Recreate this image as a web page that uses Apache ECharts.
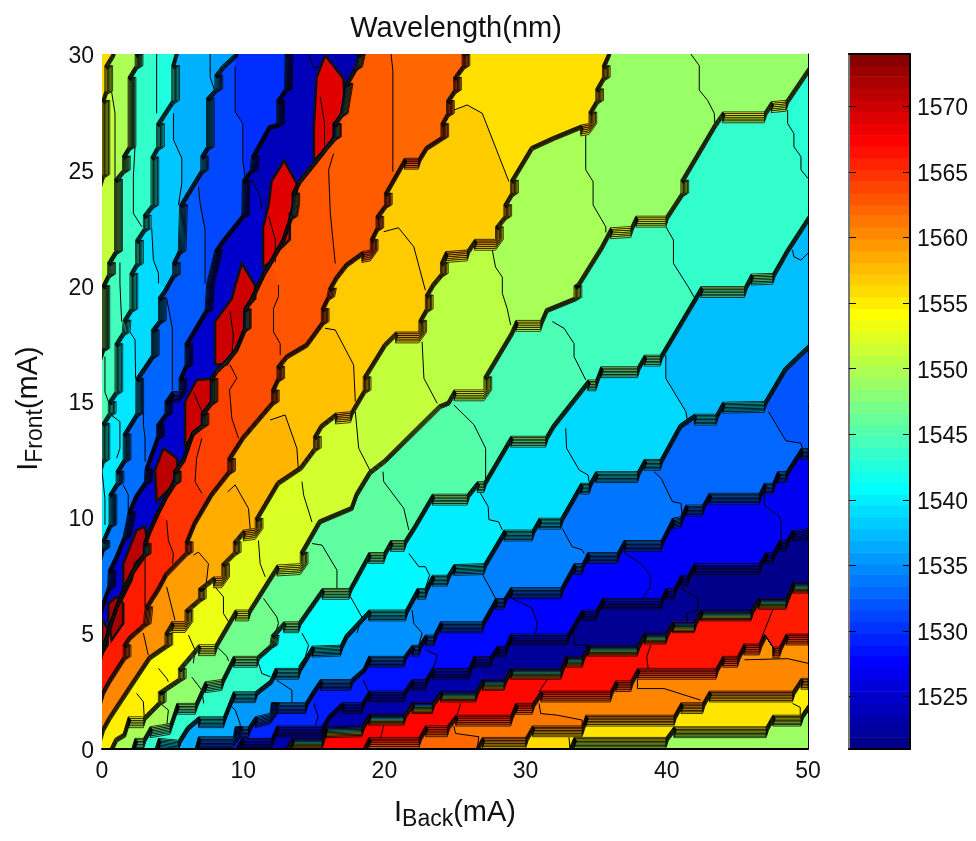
<!DOCTYPE html>
<html>
<head>
<meta charset="utf-8">
<style>html,body{margin:0;padding:0;background:#fff}#chart{width:976px;height:841px}</style>
<script src="https://cdn.jsdelivr.net/npm/echarts@6/dist/echarts.min.js"></script>
</head>
<body>
<div id="chart"></div>
<script>
// mode boundaries [I_Back, I_Front], upper-left edge of each bundle of contours
const b1 = [[0,24.8],[0,28],[0.2,28.4],[0.2,29.5],[0.7,30]];
const b2 = [[0,17.3],[0,20],[0.4,20.5],[0.4,21],[0.9,21.5],[0.9,24.6],[1.45,25],[1.45,25.6],[1.85,26],[1.85,29],[2.35,29.5],[2.35,30]];
const b3 = [[0,12.5],[0,14.06],[0.45,14.5],[0.45,15],[0.92,15.43],[0.92,17.5],[1.44,18],[1.5,18.52],[1.98,19],[1.98,20.53],[2.38,20.96],[2.38,21.97],[2.93,22.47],[2.93,23.05],[3.47,23.48],[3.47,25.56],[3.87,26],[3.87,27],[4.94,28],[4.94,29.5],[5.17,30]];
const b4 = [[0,8.7],[0,9],[0.5,9.7],[0.5,11],[1,11.5],[1,12],[1.5,12.5],[1.5,13.6],[2.4,14.5],[2.4,16],[3.5,17],[3.5,18.1],[4,18.5],[4,19.5],[4.35,19.8],[5,20.5],[5,21],[5.4,21.5],[5.5,23.5],[7,25],[7,25.6],[7.4,26],[7.4,28.1],[8,28.5],[8,29.1],[8.5,29.5],[9.4,30]];
const b5 = [[0,6.3],[0.4,7],[0.45,7.72],[0.92,8.3],[1.5,9.16],[1.86,10.25],[2.34,10.96],[3,11.54],[3.05,12.1],[3.87,13.5],[3.87,14],[4.46,14.5],[4.46,15],[4.94,15.43],[5.46,15.43],[5.46,16],[5.88,16.58],[5.88,17.5],[7.3,18.95],[7.42,20.1],[8,21.54],[8.48,21.97],[9.9,23.05],[9.95,24.56],[10.5,25],[10.6,25.6],[11.79,26.9],[12.38,27],[12.38,28],[12.93,28.5],[12.97,30]];
const b6 = [[0,4.4],[0.45,5.28],[0.92,6.14],[1.5,7],[2.1,7.72],[2.93,8.44],[2.93,8.87],[3.28,9.45],[3.87,10.25],[4.46,10.96],[5.06,11.54],[5.06,12],[5.7,12.55],[6.36,13.7],[7.02,14],[7.02,14.5],[7.66,15],[7.66,16],[8,16.36],[8.84,16.86],[9.43,17.3],[10.02,18.16],[10.02,19],[10.5,19.45],[11.4,20.6],[11.9,21.1],[12.74,22],[13.3,23],[13.45,23.55],[13.45,24],[13.92,24.56],[14.87,25.28],[15.8,26],[16.4,26.43],[16.4,27],[16.88,27.44],[17.23,28.73],[17.9,29.45],[18.1,30]];
const b7 = [[0,2.5],[0.45,3],[1.5,4],[1.5,4.5],[1.86,4.85],[2.93,5.42],[3.05,6.14],[3.87,6.93],[4.46,7.6],[5.9,8.5],[5.9,8.95],[6.47,9.8],[7.66,11.04],[8.9,12],[8.9,12.55],[9.9,13.5],[12,15],[12,15.5],[12.38,16],[12.38,16.53],[13,17],[14.4,17.5],[15,18],[15.53,18.45],[15.53,19.02],[15.93,19.53],[16.05,19.9],[16.52,20.4],[17.23,20.96],[18.4,21.47],[19,21.54],[19,22],[19.4,22.5],[19.4,23],[20,23.5],[20,24],[21.4,25.5],[22.4,25.5],[22.9,26],[24,26.43],[24,27],[24.4,27.44],[24.4,28],[24.9,28.45],[24.9,29],[25.5,29.5],[25.5,30]];
const b8 = [[0,0.9],[0.45,1.4],[1.86,2.7],[3.28,4],[4.46,4.5],[4.46,5],[4.94,5.5],[5.88,5.5],[5.88,6],[6.83,6.5],[6.83,6.93],[7.9,7.43],[8.48,7.43],[8.48,8],[9.3,8.5],[9.3,8.95],[10,9.45],[10.85,9.52],[10.85,9.96],[12.38,11.54],[14,12.2],[14.98,13],[14.98,13.5],[15.46,14],[16.52,14.5],[17.6,14.56],[18.5,15.5],[18.5,16.07],[19.95,17.5],[20.78,18],[22.44,18],[22.44,18.5],[22.9,19],[22.9,19.6],[23.38,20.1],[23.97,20.53],[23.97,21],[24.33,21.47],[25.86,21.54],[26.38,22],[27.87,22],[27.87,22.55],[28.46,23],[28.46,23.5],[28.94,24],[28.94,24.56],[30.36,26],[31.9,26.43],[33.9,26.93],[34.49,27],[34.49,27.5],[34.97,28],[34.97,28.5],[35.44,29],[35.44,29.5],[35.8,30]];
const b9 = [[0.56,0],[0.92,0.46],[1.5,0.67],[1.86,1.39],[2.93,1.39],[3.99,2.04],[3.99,2.47],[5.41,3.05],[5.41,3.48],[6.83,4.5],[8,4.5],[9.43,6],[10.37,6],[12.38,7.94],[14.04,8],[14.04,8.5],[15.34,9.88],[17.6,10.46],[17.94,11.04],[18.89,12],[19.95,12.5],[23.85,14.85],[24.45,15],[24.92,15.5],[27.05,15.5],[27.05,16.07],[28.94,18],[29.3,18.5],[31.06,18.5],[31.42,19],[33.43,19.5],[33.43,20],[33.67,20.1],[35.3,21.7],[36,22.5],[37.45,22.55],[37.8,23],[39.93,23],[41,24],[41,24.56],[43.36,27],[43.95,27.5],[46.9,27.5],[47.38,27.94],[48.44,28],[50,29.4]];
const b10 = [[2.1,0],[2.34,0.46],[2.93,0.46],[3.4,0.96],[4.82,1.1],[5.3,1.97],[6.6,1.97],[7.3,2.9],[8.48,3],[9.3,4],[10.97,4],[11.9,4.5],[12,4.92],[12.86,5.49],[13.92,5.49],[15.58,6.93],[17.5,6.93],[18.89,8.48],[19.95,8.48],[20.43,9],[21.4,9],[22.1,9.67],[23.38,11],[25.86,11],[26.57,11.54],[27.05,11.54],[28.94,13.5],[31.42,13.5],[31.9,14],[34.4,15.93],[34.97,15.93],[35.32,16.5],[37.92,16.5],[38.4,17],[39.53,17],[42.06,19.6],[42.4,19.96],[45.5,19.96],[45.96,20.5],[47.5,20.53],[48.44,21.54],[50,23]];
const b11 = [[3.75,0],[4,0.46],[5.41,0.38],[6,0.96],[6.83,1.39],[8.6,1.39],[9.3,2.47],[10.85,2.47],[11.9,2.97],[12.27,3.48],[13.92,3.48],[14.87,4.44],[16.88,4.48],[17.23,4.92],[18.89,6],[21.49,6],[22.32,6.93],[22.9,6.93],[23.38,7.5],[24.45,7.5],[24.92,7.96],[27.05,8],[28.47,9.45],[30.47,9.45],[30.95,9.96],[32.48,9.96],[33.9,11.47],[34.49,11.47],[34.97,11.97],[37.92,11.97],[38.4,12.5],[39.53,12.5],[40.88,14],[41.94,14.45],[43.48,14.45],[43.95,14.97],[46.9,15],[48.32,16.46],[50,17.44]];
const b12 = [[6.6,0],[6.83,0.53],[9.3,0.53],[9.43,0.96],[10.37,0.96],[10.85,1.39],[11.9,1.54],[12,2],[14.4,2],[14.87,2.47],[15.46,3],[17.6,3],[18.5,3.48],[18.89,4],[21.37,4],[21.96,4.48],[22.44,4.48],[22.9,4.92],[23.5,4.92],[23.97,5.49],[26.93,5.49],[27.87,6.5],[28.47,6.5],[28.94,6.96],[32.5,6.96],[33.43,8],[34,8],[34.4,8.48],[36.5,8.48],[36.97,9],[39.6,9],[40.4,9.96],[41,10.03],[41.35,10.53],[42.53,10.53],[43,11.04],[46.55,11.04],[46.9,11.47],[47.5,11.47],[47.85,11.97],[48.44,11.97],[49.5,12.97],[50,12.97]];
const b13 = [[9.43,0],[9.9,0.46],[12,0.46],[12.38,0.99],[15.58,0.99],[16.05,1.46],[17,2],[18.4,2],[18.89,2.5],[21.37,2.5],[21.96,3],[22.9,3],[23.38,3.48],[25.98,3.48],[26.34,4],[27.52,4],[28,4.44],[28.58,4.44],[28.94,4.96],[32.96,4.96],[34,6],[35,6],[35.44,6.5],[39.6,6.5],[39.93,6.93],[40.5,6.93],[41,7.5],[41.47,7.5],[41.94,8],[46.55,8],[47,8.48],[47.5,8.48],[47.97,9],[48.44,9],[48.9,9.45],[49.5,9.45],[50,9.52]];
const b14 = [[13,0],[13.45,0.46],[15.58,0.46],[15.8,0.96],[18.4,1],[18.89,1.5],[21.37,1.5],[21.96,2],[23.38,2],[23.97,2.5],[26.46,2.5],[26.93,3],[28.47,3],[28.94,3.48],[32.5,3.48],[32.84,4],[34,4],[34.4,4.48],[37.9,4.48],[38.4,5],[39.93,5],[40.4,5.49],[41.94,5.49],[42.4,6],[45.96,6],[46.48,6.5],[48.44,6.5],[48.9,7.2],[50,7.2]];
const b15 = [[18.49,0],[18.89,0.5],[22.44,0.5],[22.9,1],[24.45,1],[25.04,1.46],[28.94,1.46],[29.3,1.97],[30.47,1.97],[31.07,2.5],[36,2.5],[36.38,2.95],[37.45,2.95],[37.92,3.48],[43.48,3.48],[43.95,4],[45,4],[45.44,4.53],[46.55,4.53],[46.9,4.96],[47.5,4.41],[47.97,4.41],[48.44,4.96],[50,4.96]];
const b16 = [[26.46,0],[26.93,0.5],[30,0.5],[30.47,1],[34,1],[34.26,1.46],[40.5,1.46],[41,2],[42.53,2],[43,2.5],[48.9,2.5],[49.5,3.05],[50,3.05]];
const b17 = [[33.07,0],[33.43,0.5],[39.93,0.5],[40.5,0.96],[47.03,0.96],[47.5,1.46],[49.5,1.46],[50,1.9]];
const b18 = [[46.08,0],[46.55,0.5],[50,0.53]];
const boundaries = [b1,b2,b3,b4,b5,b6,b7,b8,b9,b10,b11,b12,b13,b14,b15,b16,b17,b18];

// wavelength of the first cell in each band, lower-left end (index 0 is the corner outside b1)
const bandValues = [1556,1551,1545,1540,1533.8,1525,1566,1560.4,1555,1549.6,1543.5,1536.5,1529.6,1523.2,1567.5,1562,1556,1549];

// thin lines between cells of one band: [wavelength right of the line, points]
const cuts1 = [[1549.8,[[0.68,28.37],[0.92,27.44],[0.92,21.54]]]];
const cuts2 = [
  [1544.4,[[0.21,16.94],[0.21,15.4],[0.45,15]]],
  [1543.8,[[1.27,21],[1.27,20.1],[1.39,18.45]]],
  [1543.5,[[2.34,26],[2.22,24.7],[2.22,23.12],[2.81,22.55]]],
  [1542.5,[[3.87,30],[3.87,27.44]]]];
const cuts3 = [
  [1539.9,[[0,12],[0.21,10.8],[0.21,9.67]]],
  [1539.6,[[0.68,14.4],[1.27,14.13],[1.27,12.98],[1.04,12.55]]],
  [1539,[[1.98,18],[2.34,17.66],[2.38,16]]],
  [1538,[[3.52,22.47],[3.64,21.1],[4,20.53],[4,20.1]]],
  [1536.8,[[5.06,27.44],[5.06,26.3],[5.65,25.5],[5.65,24.4],[5.41,23.48]]],
  [1536,[[7.66,30],[7.66,29],[7.96,28.45]]]];
const cuts4 = [
  [1533.3,[[1.5,11.4],[1.86,10.97],[1.86,9.67]]],
  [1532.8,[[2.93,14.56],[2.93,14],[3.05,13.41],[3.05,12.4]]],
  [1532.2,[[4.58,19.45],[4.98,18.16],[4.98,15.5]]],
  [1531.3,[[6.83,24.27],[6.95,23.55],[7.3,22.4],[7.3,20.1]]],
  [1530,[[9.43,29.45],[9.43,27.5],[9.97,27],[9.97,25.42],[10.14,24.63]]]];
const cuts5 = [
  [1524,[[10.6,24.56],[11.2,23.84],[11.32,23.26]]],
  [1523.6,[[14.63,30],[15,29.38],[15.6,29.5]]]];
const cuts6 = [
  [1565.4,[[3.05,8.37],[3.05,7],[3.05,6.14]]],
  [1564.7,[[4.58,9.88],[4.7,9],[5.06,8.44],[5,8]]],
  [1564,[[7.07,13.41],[6.7,12.55],[6.59,11.54],[7.07,11.04]]],
  [1563.4,[[9.07,16.58],[9.55,16],[9.03,15.5],[9.2,14.27],[9.67,13.41]]],
  [1563,[[12.5,20.03],[12.5,19.53],[12.15,19.02],[12.15,18],[12.62,17.5],[12.62,17]]],
  [1562.6,[[16.4,25.7],[16.05,25],[16.17,23.12],[16.52,20.96]]],
  [1562,[[20.47,30],[20.6,29.3],[20.6,24.92]]]];
const cuts7 = [
  [1559.8,[[2.93,5],[3.28,4.05]]],
  [1559.2,[[4.58,7],[5.17,5.56]]],
  [1558.5,[[6.47,8.37],[6.83,8.5],[7.54,8],[7.42,7.34],[7.3,6.9]]],
  [1558,[[8.9,11.1],[9.43,11.4],[10.37,10.39],[10.5,9.5]]],
  [1557.4,[[11.9,14.2],[12.97,14.42],[13.8,12.98],[13.92,11.97]]],
  [1556.9,[[15.8,18.16],[16.52,18.09],[17.82,16.58],[17.94,15]]],
  [1556.8,[[19.95,22.33],[21,22.5],[22.08,21.68],[22.9,19.8]]],
  [1555.8,[[24.92,27.58],[25.86,27.8],[26.93,27.44],[28.82,24.49]]]];
const cuts8 = [
  [1554.5,[[2.45,2.4],[2.93,2.04],[3,1.25]]],
  [1554,[[4,3.48],[4.58,3.05],[4.7,2.9]]],
  [1553.2,[[6.12,4.92],[6.59,4.27],[6.47,3.7]]],
  [1552.6,[[8,7],[8.6,6.57],[8.6,5.85],[8.96,5.5]]],
  [1552.2,[[11.08,9],[11.2,8],[11.56,7.43]]],
  [1551.7,[[14.16,11.54],[14.28,10.96],[14.87,9.8]]],
  [1551,[[17.94,14.56],[18.18,12.98],[19,12]]],
  [1550.6,[[22.67,17.58],[22.8,16],[23.74,14.92]]],
  [1549.6,[[27.64,21.54],[27.87,20.8],[28.35,20.37],[28.35,19.67],[28.7,19],[28.94,18.3]]],
  [1548.8,[[34.26,26.57],[34.26,25],[34.78,24.49],[34.78,23.48],[35.68,22.54],[35.68,22.3]]],
  [1548.7,[[41.7,30],[42.3,29.5],[42.3,28.44],[42.89,28],[43.36,27.44],[43.4,27]]]];
const cuts9 = [
  [1548.5,[[3.99,2.04],[4.7,1.68],[4.58,0.96]]],
  [1547.2,[[6.36,3.1],[7.07,2.54],[7.2,1.97]]],
  [1546.8,[[8,4.5],[8.84,4],[8.96,3.8]]],
  [1546.3,[[11.44,6.5],[12.38,5.7],[12.5,5.42],[12.27,5]]],
  [1545.8,[[14.87,8.87],[15.58,8.8],[16.64,7.72],[16.64,6.93]]],
  [1545.3,[[19.9,11.97],[19.95,11.54],[21.37,10.39],[21.73,9.45]]],
  [1544.8,[[24.92,14.85],[26.34,14],[27.17,12.98],[27.17,11.54]]],
  [1544.2,[[31.9,18.45],[32.72,18.16],[33.43,17.5],[33.43,16.94],[34.26,15.93]]],
  [1543.5,[[39.93,22.55],[40.47,21.97],[40.47,20.96],[41.47,20],[41.94,19.5]]],
  [1543,[[48.56,27.58],[48.56,27],[49,26.57],[49,26],[49.5,25.57],[49.5,25],[50,24.63]]]];
const cuts10 = [
  [1541.5,[[11.08,3.7],[11.32,3.26],[11.91,3.12]]],
  [1540.9,[[14.16,5],[14.63,4.48],[14.4,3.98],[13.92,3.55]]],
  [1540.5,[[17.6,6.57],[18.4,5.7],[18.06,5]]],
  [1540,[[21.73,8.44],[22.44,7.87],[22.9,7.87],[23.2,7.5],[22.9,6.93]]],
  [1539.3,[[26.8,11.04],[27.35,10.46],[27.4,9.9],[28.1,9.8],[28.35,9.45]]],
  [1538.9,[[32.84,13.84],[32.9,12.98],[33.8,12.04],[34.42,11.83],[34.49,11.54]]],
  [1537.5,[[39.93,17],[39.93,16],[41.35,14.56],[41.5,14]]],
  [1537.3,[[48.9,21.54],[49,21.25],[49.5,21.1],[50,21.4]]]];
const cuts11 = [
  [1535.6,[[8.96,1.97],[9.43,1.68],[9.78,1.1],[9.78,0.96]]],
  [1535.2,[[12.38,2.97],[13.45,2.54],[13.45,2]]],
  [1534.7,[[21.96,6],[22.08,5.42],[22.67,5],[22.44,4.48]]],
  [1534.2,[[26.97,7.5],[27.5,6.93],[27.87,6.5]]],
  [1533.7,[[32.6,9.52],[33.3,8.73],[34,8.6],[34.14,8.44]]],
  [1533,[[39.1,11.97],[39.6,11.68],[40.4,10.68],[41,10.6],[41.1,10]]],
  [1532,[[47.2,14.56],[48.44,13.3],[49.5,13.2],[49.6,12.97]]]];
const cuts12 = [
  [1529,[[14.99,1.97],[15.3,1.39],[15.1,1.03]]],
  [1528.5,[[18.49,2.97],[18.89,2.47]]],
  [1528,[[22.9,4.27],[23.74,4.05],[23.45,3.48]]],
  [1527.6,[[28.94,6.53],[30.47,6.07],[30.83,5.42],[30.7,4.96]]],
  [1527.3,[[36.97,8.48],[38.16,8],[38.82,7.5],[38.82,7],[38.3,6.5]]],
  [1527,[[46.9,11],[46.9,10.53],[47.97,10.03],[48.1,9.8],[48.1,9]]]];
const cuts13 = [
  [1522.3,[[26.34,4],[26.1,3.4]]],
  [1522,[[33.9,5.9],[33.43,5.42],[33.43,4.48],[34.4,4.48]]],
  [1521.5,[[41,6.93],[42.2,6.5],[42.2,6],[41.42,5.85],[41.42,5.49]]]];
const cuts14 = [
  [1567.2,[[19.95,1],[19.72,0.46]]],
  [1567,[[25.4,1.97],[25.15,1.46]]],
  [1566.8,[[31.54,3],[30.95,2.47]]],
  [1566.4,[[38.87,4.48],[38.58,3.98],[38.68,3.48]]],
  [1566,[[47.5,6],[46.55,4.55]]]];
const cuts15 = [
  [1561.2,[[24.92,1],[25.04,0.67],[26.69,0.53],[26.57,0]]],
  [1560.5,[[30.95,1.97],[31.07,1.53],[32.25,1.46],[34,1.25],[34,1]]],
  [1560.4,[[37.92,3],[37.92,2.61],[39.8,2.61],[42.4,2.11]]],
  [1559.8,[[45.5,3.85],[48.56,3.9],[50,3.7]]]];
const cuts16 = [
  [1555.5,[[33.07,0.5],[33.15,0]]],
  [1555,[[48.9,1.97],[49.45,1.8],[49.45,1.46]]]];
const cutsByBand = {0:cuts1,1:cuts2,2:cuts3,3:cuts4,4:cuts5,5:cuts6,6:cuts7,7:cuts8,8:cuts9,9:cuts10,10:cuts11,11:cuts12,12:cuts13,13:cuts14,14:cuts15,15:cuts16};

// dark red islands between the blue band and the orange band
const island1 = [[15.8,29.95],[17.1,28.95],[17.23,27.44],[16.4,27],[16.4,26.43],[15.8,25.85],[15,25.4],[15,26.86],[15.2,29]];
const island2 = [[12.9,25.4],[13.8,24.4],[13.8,23.4],[13.3,23.1],[13.3,22],[12.3,21.4],[11.9,21],[11.4,20.8],[11.4,22.5],[11.8,23.5],[12,24.5]];
const island3 = [[9.9,20.96],[10.85,20],[10.85,19.45],[10.14,19],[10.14,18.16],[9.43,17.15],[8.84,16.6],[8,16.6],[8,18.45],[9.2,19.45],[9.43,20]];
const island4 = [[6.7,15.93],[7.9,16],[7.9,15],[7.3,14.5],[7.3,14],[6.47,13.55],[5.88,13.1],[5.88,15]];
const island5 = [[4.35,12.98],[5.3,12.55],[5.4,12],[4.8,11.25],[3.87,10.68],[3.75,12.04]];
const island6 = [[3.05,9.6],[3.28,8.58],[2.34,8],[2.1,7.3],[1.5,6.57],[1.5,8],[2.45,9.45]];
const island7 = [[1.04,6.57],[1.5,6.28],[1.5,5.42],[0.68,4.7],[0.45,5.56],[0.45,6.28]];
const island8 = [[0,5.6],[0.4,5.2],[0.4,4.5],[0,4.1]];
const islands = [island1,island2,island3,island4,island5,island6,island7,island8];
const islandValues = [1569,1569,1570,1570,1571,1571,1572,1571];
const islandLines = [
  [[15.46,28.15],[15.76,27],[15.76,26]],
  [[11.8,23],[12.27,22],[12.27,21]],
  [[9.07,18.88],[9.3,17.87],[9.2,17]],
  [[6.47,15.43],[7.07,14.56]]];

const xTicks = [0,10,20,30,40,50];
const yTicks = [0,5,10,15,20,25,30];
const barTicks = [1525,1530,1535,1540,1545,1550,1555,1560,1565,1570];
const barLevels = [1521,1521.9,1522.8,1523.6,1524.5,1525.4,1526.3,1527.2,1528.1,1528.9,1529.8,1530.7,1531.6,1532.5,1533.4,1534.3,1535.1,1536,1536.9,1537.8,1538.7,1539.6,1540.4,1541.3,1542.2,1543.1,1544,1544.9,1545.7,1546.6,1547.5,1548.4,1549.3,1550.2,1551,1551.9,1552.8,1553.7,1554.6,1555.5,1556.4,1557.2,1558.1,1559,1559.9,1560.8,1561.7,1562.5,1563.4,1564.3,1565.2,1566.1,1567,1567.8,1568.7,1569.6,1570.5,1571.4,1572.3,1573.1,1574];

const vMin = 1521, vMax = 1574;
const jet = ['#000080','#0000ff','#0080ff','#00ffff','#80ff80','#ffff00','#ff8000','#ff0000','#800000'];
function jetColor(v) {
    return echarts.color.lerp((v - vMin) / (vMax - vMin), jet);
}

// contours of one bundle move down on flat steps, right on steep steps, and hardly on diagonals
const stepX = 0.55, stepY = 0.47, diagX = 0.17, diagY = 0.15;
function offsetLine(line, t) {
    const out = [];
    for (let i = 0; i < line.length - 1; i++) {
        const p = line[i], q = line[i + 1];
        const px = Math.abs(q[0] - p[0]) * 14.1, py = Math.abs(q[1] - p[1]) * 23.17;
        let dx = diagX * t, dy = -diagY * t;
        if (py < 0.25 * px) { dx = 0; dy = -stepY * t; }
        else if (px < 0.25 * py) { dx = stepX * t; dy = 0; }
        out.push([p[0] + dx, p[1] + dy], [q[0] + dx, q[1] + dy]);
    }
    return out;
}

const shapes = [];

function fillFor(line) {
    const pts = line.slice();
    const last = line[line.length - 1];
    if (last[1] >= 30) pts.push([50, 30]);
    pts.push([50, 0]);
    if (line[0][0] <= 0) pts.push([0, 0]);
    return pts;
}

function nearestVertex(line, p) {
    let best = 0, bestD = Infinity;
    line.forEach((q, i) => {
        const d = (q[0] - p[0]) * (q[0] - p[0]) + (q[1] - p[1]) * (q[1] - p[1]);
        if (d < bestD) { bestD = d; best = i; }
    });
    return best;
}

function stripShapes(k) {
    const line = boundaries[k];
    const from = bandValues[k], to = bandValues[k + 1];
    const wrap = Math.abs(to - from) > 20;
    const n = wrap ? 9 : Math.max(6, Math.min(8, Math.round(Math.abs(to - from) / 0.88)));
    const ext = line.slice();
    if (line[0][0] <= 0) ext.unshift([-1, line[0][1] - 2]);
    const end = line[line.length - 1];
    if (end[1] >= 30) ext.push([end[0] + 1, 32]);
    const list = [];
    for (let i = 0; i < n; i++) {
        const a = offsetLine(ext, i / n);
        const c = offsetLine(ext, (i + 1) / n).reverse();
        list.push({type: 'polygon', pts: a.concat(c), fill: jetColor(from + (to - from) * (i + 0.5) / n), stroke: '#000', lw: 0.75});
    }
    return list;
}

// painted from the upper left corner toward the lower right
shapes.push({type: 'polygon', pts: [[0,0],[50,0],[50,30],[0,30]], fill: jetColor(bandValues[0])});
const thin = [];
boundaries.forEach((line, k) => {
    shapes.push({type: 'polygon', pts: fillFor(line), fill: jetColor(bandValues[k + 1])});
    (cutsByBand[k] || []).forEach(cut => {
        const a = nearestVertex(line, cut[1][0]);
        const back = line.slice(a).reverse();
        shapes.push({type: 'polygon', pts: cut[1].concat([[50, 0], [50, 30]], back), fill: jetColor(cut[0])});
        thin.push(cut[1]);
    });
});
thin.forEach(l => shapes.push({type: 'polyline', pts: l, stroke: '#000', lw: 1}));
boundaries.forEach((line, k) => {
    if (k !== 5) stripShapes(k).forEach(s => shapes.push(s));
});
islands.forEach((pts, i) => shapes.push({type: 'polygon', pts: pts, fill: jetColor(islandValues[i]), stroke: '#111', lw: 2.6}));
islandLines.forEach(l => shapes.push({type: 'polyline', pts: l, stroke: '#000', lw: 1}));
stripShapes(5).forEach(s => shapes.push(s));

function renderShape(params, api) {
    const s = shapes[params.dataIndex];
    const points = s.pts.map(p => api.coord(p));
    return {
        type: s.type,
        shape: {points: points},
        style: {fill: s.type === 'polygon' ? s.fill : null, stroke: s.stroke || null, lineWidth: s.lw || 0}
    };
}

function renderBar(params, api) {
    const a = api.coord([0, api.value(1)]);
    const b = api.coord([1, api.value(2)]);
    return {
        type: 'rect',
        shape: {x: a[0], y: b[1], width: b[0] - a[0], height: a[1] - b[1] + 0.5},
        style: {fill: jetColor((api.value(1) + api.value(2)) / 2)}
    };
}

const font = '"Liberation Sans", Arial, sans-serif';
const nameRich = {
    a: {fontFamily: font, fontSize: 29, color: '#111'},
    s: {fontFamily: font, fontSize: 23, color: '#111', verticalAlign: 'bottom', padding: [14, 0, 0, 0]}
};
const plain = v => String(v);
// tick numbers sit a little low in the original
const lowered = v => '{n|' + v + '}';
const lowRich = {n: {fontFamily: font, fontSize: 23, color: '#111', padding: [5, 0, 0, 0]}};
const chart = echarts.init(document.getElementById('chart'), null, {renderer: 'canvas'});
chart.setOption({
    animation: false,
    backgroundColor: '#fff',
    title: {
        text: 'Wavelength(nm)',
        left: 451, top: 9, textAlign: 'center',
        textStyle: {fontFamily: font, fontSize: 29, fontWeight: 'normal', color: '#111'}
    },
    grid: [
        {left: 102, top: 54, width: 706, height: 695},
        {left: 849, top: 54, width: 61, height: 695}
    ],
    xAxis: [
        {
            gridIndex: 0, type: 'value', min: 0, max: 50, interval: 10, z: 5,
            name: '{a|I}{s|Back}{a|(mA)}', nameLocation: 'middle', nameGap: 45,
            nameTextStyle: {rich: nameRich},
            splitLine: {show: false},
            axisLine: {show: true, onZero: false, lineStyle: {color: '#000', width: 2}},
            axisTick: {show: false},
            axisLabel: {fontFamily: font, fontSize: 23, color: '#111', margin: 11, customValues: xTicks, formatter: plain}
        },
        {gridIndex: 1, type: 'value', min: 0, max: 1, z: 5, axisLine: {show: true, onZero: false, lineStyle: {color: '#000', width: 2}}, axisTick: {show: false}, axisLabel: {show: false}, splitLine: {show: false}},
        {gridIndex: 1, type: 'value', min: 0, max: 1, z: 5, position: 'top', axisLine: {show: true, onZero: false, lineStyle: {color: '#000', width: 2}}, axisTick: {show: false}, axisLabel: {show: false}, splitLine: {show: false}}
    ],
    yAxis: [
        {
            gridIndex: 0, type: 'value', min: 0, max: 30, interval: 5,
            name: '{a|I}{s|Front}{a|(mA)}', nameLocation: 'middle', nameGap: 55,
            nameTextStyle: {rich: nameRich, padding: [0, 14, 0, 0]},
            splitLine: {show: false},
            axisLine: {show: false, onZero: false},
            axisTick: {show: false},
            axisLabel: {margin: 8, customValues: yTicks, formatter: lowered, rich: lowRich}
        },
        {gridIndex: 0, type: 'value', min: 0, max: 30, interval: 5, z: 5, position: 'right', axisLine: {show: true, onZero: false, lineStyle: {color: '#000', width: 1}}, axisTick: {show: false}, axisLabel: {show: false}, splitLine: {show: false}},
        {
            gridIndex: 1, type: 'value', min: vMin, max: vMax, position: 'right', z: 5,
            axisLine: {show: true, onZero: false, lineStyle: {color: '#000', width: 2}},
            axisTick: {inside: true, length: 7, customValues: barTicks, lineStyle: {color: '#000'}},
            axisLabel: {margin: 7, customValues: barTicks, formatter: lowered, rich: lowRich},
            splitLine: {show: false}
        },
        {
            gridIndex: 1, type: 'value', min: vMin, max: vMax, position: 'left', z: 5,
            axisLine: {show: true, onZero: false, lineStyle: {color: '#777', width: 2}},
            axisTick: {inside: true, length: 7, customValues: barTicks, lineStyle: {color: '#000'}},
            axisLabel: {show: false},
            splitLine: {show: false}
        }
    ],
    series: [
        {
            type: 'custom', xAxisIndex: 0, yAxisIndex: 0, clip: true, silent: true, progressive: 0, z: 1,
            encode: {x: 0, y: 1},
            data: shapes.map((s, i) => [0, 0, i]),
            renderItem: renderShape
        },
        {
            type: 'custom', xAxisIndex: 1, yAxisIndex: 2, clip: true, silent: true, progressive: 0, z: 1,
            encode: {x: 0, y: 1},
            data: barLevels.slice(0, -1).map((lo, i) => [0.5, lo, barLevels[i + 1]]),
            renderItem: renderBar
        }
    ]
});
</script>
</body>
</html>
